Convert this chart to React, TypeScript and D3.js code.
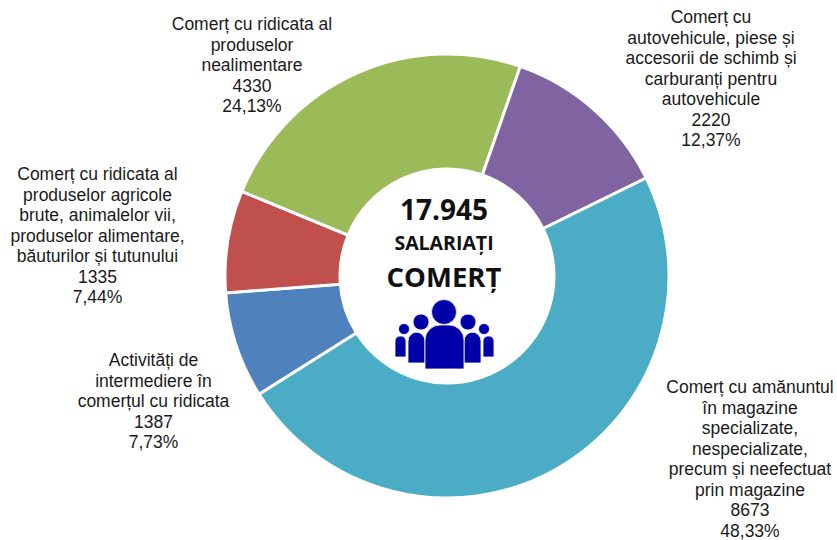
import React from "react";
import * as d3 from "d3";

const names = ["Activități de intermediere","Ridicata agricole","Ridicata nealimentare","Autovehicule","Amănuntul"];
const values = [1387, 1335, 4330, 2220, 8673];
const colors = ["#4f81bd", "#c0504d", "#9bbb59", "#8064a2", "#4bacc6"];
const labels: string[][] = [
  ["Activități de","intermediere în","comerțul cu ridicata","1387","7,73%"],
  ["Comerț cu ridicata al","produselor agricole","brute, animalelor vii,","produselor alimentare,","băuturilor și tutunului","1335","7,44%"],
  ["Comerț cu ridicata al","produselor","nealimentare","4330","24,13%"],
  ["Comerț cu","autovehicule, piese și","accesorii de schimb și","carburanți pentru","autovehicule","2220","12,37%"],
  ["Comerț cu amănuntul","în magazine","specializate,","nespecializate,","precum și neefectuat","prin magazine","8673","48,33%"],
];
const labelAnchors = [[153.5,366],[97.5,180],[252,30],[711,23],[750,393]];
const cx = 447, cy = 276;
const heads = [[444,312,12.5],[421,322,8],[468,322,8],[404,329,5.5],[484,329,5.5]];
const bodies = [[425,325,39,44,15],[408,332,17,31,9],[464,332,17,31,9],[395,336,11,21,5],[483,336,11,21,5]];

export default function App() {
  const start = -122.2 * Math.PI / 180;
  const pie = d3.pie<number>().sort(null).startAngle(start).endAngle(2*Math.PI+start);
  const arcs = pie(values);
  const arc = d3.arc<d3.PieArcDatum<number>>().innerRadius(107).outerRadius(222);
  return (
    <svg width={837} height={540} style={{position:"absolute",left:0,top:0,background:"#fff"}} fontFamily="Liberation Sans, Arial, sans-serif">
      <g transform={`translate(${cx},${cy})`}>
        {arcs.map((a,i)=><path key={names[i]} d={arc(a) as string} fill={colors[i]} stroke="#fff" strokeWidth={3}/>)}
      </g>
      {labels.map((ls,i)=>(
        <text key={i} textAnchor="middle" fontSize={17.5} fill="#1a1a1a">
          {ls.map((l,j)=><tspan key={j} x={labelAnchors[i][0]} y={labelAnchors[i][1]+j*20.55}>{l}</tspan>)}
        </text>
      ))}
      <g textAnchor="middle" fill="#111" fontFamily="Open Sans, sans-serif" fontWeight={700}>
        <text x={444} y={220} fontSize={28}>17.945</text>
        <text x={444} y={250} fontSize={19.5}>SALARIAȚI</text>
        <text x={444} y={287} fontSize={27.5}>COMERȚ</text>
      </g>
      <g fill="#0000a8" stroke="#fff" strokeWidth={0.8}>
        {bodies.slice().reverse().map((b,i)=>{
          const [x,y,w,h,r]=b;
          return <path key={i} d={`M${x},${y+h}V${y+r}A${r},${r} 0 0 1 ${x+r},${y}H${x+w-r}A${r},${r} 0 0 1 ${x+w},${y+r}V${y+h}Z`}/>;
        })}
        {heads.map((c,i)=><circle key={i} cx={c[0]} cy={c[1]} r={c[2]}/>)}
      </g>
    </svg>
  );
}
